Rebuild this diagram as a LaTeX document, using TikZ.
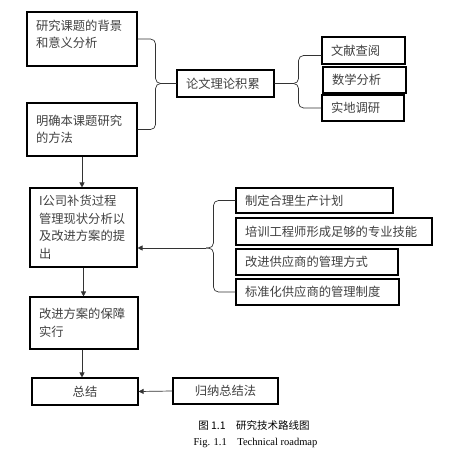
\documentclass[tikz,border=0pt]{standalone}
\usepackage{fontspec}
\setmainfont{Liberation Serif}
\newfontfamily\cjk{Noto Sans CJK SC}
\usepackage{xcolor}
\usepackage{tikz}
\usetikzlibrary{arrows.meta, positioning, calc}

\begin{document}
\begin{tikzpicture}[
      x=1pt, y=-1pt,
      box/.style={draw, line width=1.1pt, inner xsep=9pt, inner ysep=0pt, align=left,
        text=black!75, font=\fontsize{12.3}{17.5}\cjk},
      midbox/.style={box, align=center},
      line/.style={line width=0.7pt, black!80},
      arrow/.style={line, -{Triangle[length=5pt,width=5pt]}},
      brace/.style={line, rounded corners=5pt},
      captext/.style={inner sep=0pt, text=black}
    ]
      \useasboundingbox (0,0) rectangle (457,462);
      % left column
      \node[box, text width=92pt, minimum height=54pt] (bg) at (82,39) {研究课题的背景\\和意义分析\\[-7pt]\mbox{}};
      \node[box, text width=92pt, minimum height=53pt] (fa) at (82,129.5) {明确本课题研究\\的方法};
      \node[box, text width=89pt, minimum height=79pt] (xz) at (83.5,227.5) {I公司补货过程\\管理现状分析以\\及改进方案的提\\出};
      \node[box, text width=90pt, minimum height=52pt] (bz) at (84,323) {改进方案的保障\\实行};
      \node[midbox, text width=88pt, minimum height=27pt] (zj) at (85,391.5) {总结};
      % theory part
      \node[box, text width=79pt, minimum height=27pt] (ll) at (225.5,83.5) {论文理论积累};
      \node[box, text width=65pt, minimum height=27pt] (wx) at (363.5,50.5) {文献查阅};
      \node[box, text width=65pt, minimum height=26pt] (sx) at (364.5,80) {数学分析};
      \node[box, text width=64pt, minimum height=26pt] (sd) at (363,108) {实地调研};
      % improvement measures
      \node[box, text width=139pt, minimum height=25pt] (jh) at (314.5,200.5) {制定合理生产计划};
      \node[box, text width=178pt, minimum height=27pt] (px) at (334,231.5) {培训工程师形成足够的专业技能};
      \node[box, text width=144pt, minimum height=26pt] (gf) at (317,262) {改进供应商的管理方式};
      \node[box, text width=145pt, minimum height=26pt] (zd) at (317.5,292) {标准化供应商的管理制度};
      \node[midbox, text width=87pt, minimum height=26pt] (gn) at (225.5,391) {归纳总结法};
      \coordinate (tip) at (206,248);

      \draw[brace] (bg.east) -- ++(18,0) |- (ll.west);
      \draw[brace] (fa.east) -- ++(18,0) |- (ll.west);
      \draw[brace] (ll.east) -- ++(24,0) |- ([yshift=-5pt]wx.west);
      \draw[brace] (ll.east) -- ++(24,0) |- (sd.west);
      \draw[brace] (jh.west) -- ++(-22,0) |- (tip);
      \draw[brace] (zd.west) -- ++(-22,0) |- (tip);

      \draw[arrow] (fa.south) -- (fa.south |- xz.north);
      \draw[arrow] (tip) -- (tip -| xz.east);
      \draw[arrow] (xz.south) -- (xz.south |- bz.north);
      \draw[arrow] ([xshift=-2pt]bz.south) -- ([xshift=-2pt]bz.south |- zj.north);
      \draw[arrow] (gn.west) -- (zj.east);

      \node[captext, font=\fontsize{10.5}{12}\cjk] (cn) at (254,425) {图 1.1\quad 研究技术路线图};
      \node[captext, font=\fontsize{10.5}{12}\selectfont] (en) at (255.5,443) {Fig. 1.1\quad Technical roadmap};
    \end{tikzpicture}
\end{document}
